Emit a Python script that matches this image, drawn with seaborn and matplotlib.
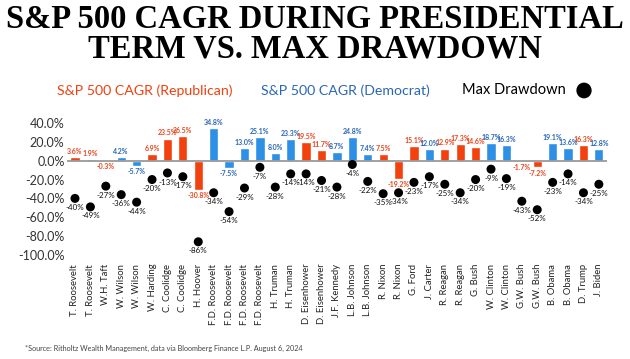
import pandas as pd
import matplotlib
matplotlib.use("Agg")
import matplotlib.pyplot as plt
import seaborn as sns

# presidential terms, in order
presidents = ["T. Roosevelt", "T. Roosevelt", "W.H. Taft", "W. Wilson", "W. Wilson",
              "W. Harding", "C. Coolidge", "C. Coolidge", "H. Hoover",
              "F.D. Roosevelt", "F.D. Roosevelt", "F.D. Roosevelt", "F.D. Roosevelt",
              "H. Truman", "H. Truman", "D. Eisenhower", "D. Eisenhower",
              "J.F. Kennedy", "L.B. Johnson", "L.B. Johnson", "R. Nixon", "R. Nixon",
              "G. Ford", "J. Carter", "R. Reagan", "R. Reagan", "G. Bush",
              "W. Clinton", "W. Clinton", "G.W. Bush", "G.W. Bush",
              "B. Obama", "B. Obama", "D. Trump", "J. Biden"]
party = ["R", "R", "R", "D", "D", "R", "R", "R", "R", "D", "D", "D", "D", "D", "D",
         "R", "R", "D", "D", "D", "R", "R", "R", "D", "R", "R", "R", "D", "D",
         "R", "R", "D", "D", "R", "D"]
cagr = [3.6, 1.9, -0.3, 4.2, -5.7, 6.9, 23.5, 26.5, -30.8, 34.8, -7.5, 13.0, 25.1,
        8.0, 23.3, 19.5, 11.7, 8.7, 24.8, 7.4, 7.5, -19.2, 15.1, 12.0, 12.9, 17.3,
        14.6, 18.7, 16.3, -1.7, -7.2, 19.1, 13.6, 16.3, 12.8]
max_dd = [-40, -49, -27, -36, -44, -20, -13, -17, -86, -34, -54, -29, -7, -28, -14,
          -14, -21, -28, -4, -22, -35, -34, -23, -17, -25, -34, -20, -9, -19,
          -43, -52, -23, -14, -34, -25]
yticks = [40, 20, 0, -20, -40, -60, -80, -100]

RED = "#F2400F"
BLUE = "#2D8FE6"
RED_TXT = "#E8461E"
BLUE_TXT = "#2A66B4"

df = pd.DataFrame({"term": range(len(presidents)), "name": presidents,
                   "party": party, "cagr": cagr, "dd": max_dd})

sns.set_style("white")
plt.rcParams["font.family"] = ["Lato", "DejaVu Sans"]

fig = plt.figure(figsize=(6.3, 3.59), dpi=100)
ax = fig.add_axes([0.1068, 0.2766, 0.856, 0.394])

sns.barplot(data=df, x="term", y="cagr", hue="party", dodge=False,
            palette={"R": RED, "D": BLUE}, width=0.6, legend=False, ax=ax,
            saturation=1)
sns.scatterplot(data=df, x="term", y="dd", color="black", s=42,
                edgecolor="none", zorder=5, ax=ax)

ax.axhline(0, color="#9a9a9a", lw=1.3, zorder=1)

# labels on bars and dots
for i, row in df.iterrows():
    c = RED_TXT if row.party == "R" else BLUE_TXT
    if row.cagr >= 0:
        ax.annotate(f"{row.cagr:.1f}%", (i, row.cagr), xytext=(0, 1.5),
                    textcoords="offset points", ha="center", va="bottom",
                    fontsize=5.0, color=c, fontweight="bold")
    else:
        ax.annotate(f"{row.cagr:.1f}%", (i, row.cagr), xytext=(0, -1.5),
                    textcoords="offset points", ha="center", va="top",
                    fontsize=5.0, color=c, fontweight="bold")
    ax.annotate(f"{row.dd:d}%", (i, row.dd), xytext=(0, -4),
                textcoords="offset points", ha="center", va="top",
                fontsize=5.8, color="#111111")

ax.set_xlim(-0.5, len(presidents) - 0.5)
ax.set_ylim(-105, 45)
ax.set_yticks(yticks)
ax.set_yticklabels([f"{v:.1f}%" for v in yticks], fontsize=9, color="#333333")
ax.set_xticks(range(len(presidents)))
ax.set_xticklabels(presidents, rotation=90, fontsize=6.8, color="#222222")
ax.tick_params(axis="both", length=0, pad=2)
ax.tick_params(axis="x", pad=3)
ax.set_xlabel("")
ax.set_ylabel("")
sns.despine(ax=ax, left=True, bottom=True)

# title - shrink it until it fits the width of the reference (~620px)
title = fig.text(0.5, 0.99, "S&P 500 CAGR DURING PRESIDENTIAL\nTERM VS. MAX DRAWDOWN",
                 ha="center", va="top", fontsize=24, fontweight="bold",
                 family="Liberation Serif", linespacing=0.95, color="black")
renderer = fig.canvas.get_renderer()
w = title.get_window_extent(renderer).width
title.set_fontsize(24 * 618 / w)

# legend as text
fig.text(0.09, 0.748, "S&P 500 CAGR (Republican)", color=RED, fontsize=10.2,
         va="center", ha="left")
fig.text(0.415, 0.748, "S&P 500 CAGR (Democrat)", color=BLUE_TXT, fontsize=10.2,
         va="center", ha="left")
fig.text(0.733, 0.748, "Max Drawdown", color="black", fontsize=10.5,
         va="center", ha="left")
fig.add_artist(matplotlib.patches.Ellipse((0.927, 0.748), 0.022, 0.04,
                                          transform=fig.transFigure, color="black"))

fig.text(0.04, 0.02, "*Source: Ritholtz Wealth Management, data via Bloomberg Finance L.P. August 6, 2024",
         fontsize=5.2, color="#444444", ha="left", va="bottom")

fig.savefig("out.png", dpi=100)
